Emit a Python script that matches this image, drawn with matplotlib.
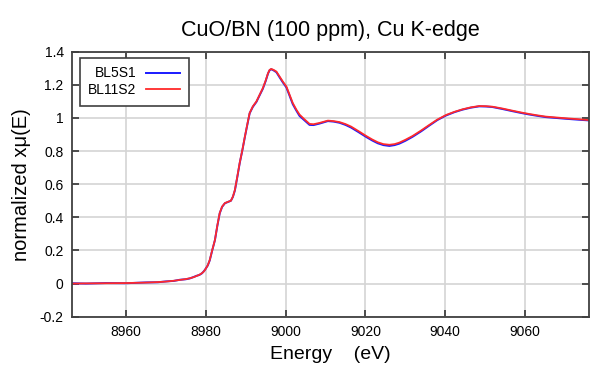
import numpy as np
import matplotlib
matplotlib.use("Agg")
import matplotlib.pyplot as plt

plt.rcParams['font.family'] = ['Liberation Sans', 'DejaVu Sans']
plt.rcParams['axes.unicode_minus'] = False

# energy (eV) and normalized absorption
energy = [8946.5, 8950, 8955, 8960, 8965, 8968, 8970, 8972, 8973.5, 8975,
          8976, 8977, 8977.7, 8978.4, 8979, 8979.4, 8979.8, 8980.5, 8981, 8981.6,
          8982.3, 8982.9, 8983.5, 8984.1, 8984.8, 8985.5, 8986.3, 8986.8, 8987.3, 8987.9,
          8988.5, 8989.2, 8989.8, 8990.4, 8991, 8991.8, 8992.7, 8993.5, 8994.3, 8995,
          8995.6, 8996, 8996.4, 8997, 8997.7, 8998.5, 8999.3, 9000.2, 9001, 9001.8,
          9002.7, 9003.5, 9004.8, 9006, 9007, 9008.5, 9010.6, 9012, 9013.5, 9015,
          9016.4, 9018.3, 9020.2, 9021.7, 9023.1, 9024.5, 9026, 9027.3, 9028.5, 9030,
          9031.8, 9034, 9036, 9038, 9040.2, 9042.3, 9044.3, 9046.4, 9048.5, 9050.2,
          9051.8, 9054.3, 9056.8, 9059, 9061, 9063, 9065.2, 9067.7, 9070.2, 9073,
          9076]
mu_bl11 = [0.0, 0.001, 0.002, 0.003, 0.006, 0.009, 0.012, 0.017, 0.022, 0.027,
           0.032, 0.039, 0.046, 0.053, 0.062, 0.070, 0.082, 0.110, 0.142, 0.200,
           0.263, 0.350, 0.426, 0.465, 0.486, 0.493, 0.500, 0.525, 0.565, 0.645,
           0.728, 0.810, 0.887, 0.960, 1.030, 1.070, 1.100, 1.140, 1.180, 1.225,
           1.270, 1.290, 1.296, 1.290, 1.280, 1.250, 1.220, 1.190, 1.140, 1.090,
           1.050, 1.020, 0.990, 0.964, 0.962, 0.970, 0.984, 0.981, 0.975, 0.963,
           0.948, 0.920, 0.891, 0.870, 0.853, 0.842, 0.838, 0.842, 0.851, 0.868,
           0.891, 0.925, 0.958, 0.990, 1.018, 1.037, 1.052, 1.064, 1.072, 1.071,
           1.068, 1.057, 1.044, 1.033, 1.024, 1.016, 1.008, 1.003, 0.998, 0.993,
           0.987]
mu_bl5 = [0.002, 0.000, 0.003, 0.002, 0.007, 0.008, 0.013, 0.016, 0.023, 0.026,
          0.031, 0.040, 0.047, 0.052, 0.061, 0.071, 0.083, 0.109, 0.140, 0.198,
          0.262, 0.348, 0.424, 0.463, 0.485, 0.492, 0.500, 0.523, 0.562, 0.642,
          0.726, 0.808, 0.885, 0.957, 1.028, 1.067, 1.097, 1.137, 1.176, 1.222,
          1.268, 1.288, 1.294, 1.287, 1.276, 1.245, 1.215, 1.184, 1.134, 1.083,
          1.044, 1.012, 0.984, 0.958, 0.957, 0.966, 0.981, 0.978, 0.971, 0.958,
          0.942, 0.914, 0.885, 0.864, 0.847, 0.836, 0.831, 0.836, 0.845, 0.862,
          0.886, 0.920, 0.954, 0.987, 1.015, 1.035, 1.050, 1.062, 1.070, 1.069,
          1.066, 1.054, 1.041, 1.030, 1.021, 1.013, 1.005, 1.000, 0.995, 0.990,
          0.985]

fig = plt.figure(figsize=(5.9, 3.65), dpi=100)
ax = fig.add_axes([72 / 590, 1 - 316.7 / 365, 517 / 590, 265 / 365])

ax.plot(energy, mu_bl5, color='#1a1aff', lw=1.4, label='BL5S1')
ax.plot(energy, mu_bl11, color='#ff2a2a', lw=1.3, label='BL11S2')

ax.set_xlim(8946.5, 9076)
ax.set_ylim(-0.2, 1.4)
ax.set_xticks(np.arange(8960, 9061, 20))
ax.set_yticks(np.arange(-0.2, 1.41, 0.2))
ax.yaxis.set_major_formatter(matplotlib.ticker.FuncFormatter(
    lambda v, _: f"{v:.1f}".rstrip('0').rstrip('.') if abs(v) > 1e-9 else "0"))

ax.grid(True, color='#d4d4d4', lw=1.2)
ax.set_axisbelow(True)
ax.tick_params(direction='in', length=5, width=1.3, color='#404040',
               top=True, right=True, labelsize=10, pad=6)
for s in ax.spines.values():
    s.set_color('#404040')
    s.set_linewidth(1.3)

ax.set_title("CuO/BN (100 ppm), Cu K-edge", fontsize=15.5, pad=11)
ax.set_xlabel("Energy    (eV)", fontsize=14, labelpad=5)
ax.set_ylabel("normalized x\u03bc(E)", fontsize=14.5, labelpad=6)

leg = ax.legend(loc='upper left', bbox_to_anchor=(0.0155, 0.976),
                borderaxespad=0, markerfirst=False, fancybox=False,
                edgecolor='#404040', framealpha=1, fontsize=10,
                handlelength=2.5, handletextpad=0.65, labelspacing=0.2,
                borderpad=0.6)
leg.get_frame().set_linewidth(1.2)

fig.savefig("out.png", dpi=100)
